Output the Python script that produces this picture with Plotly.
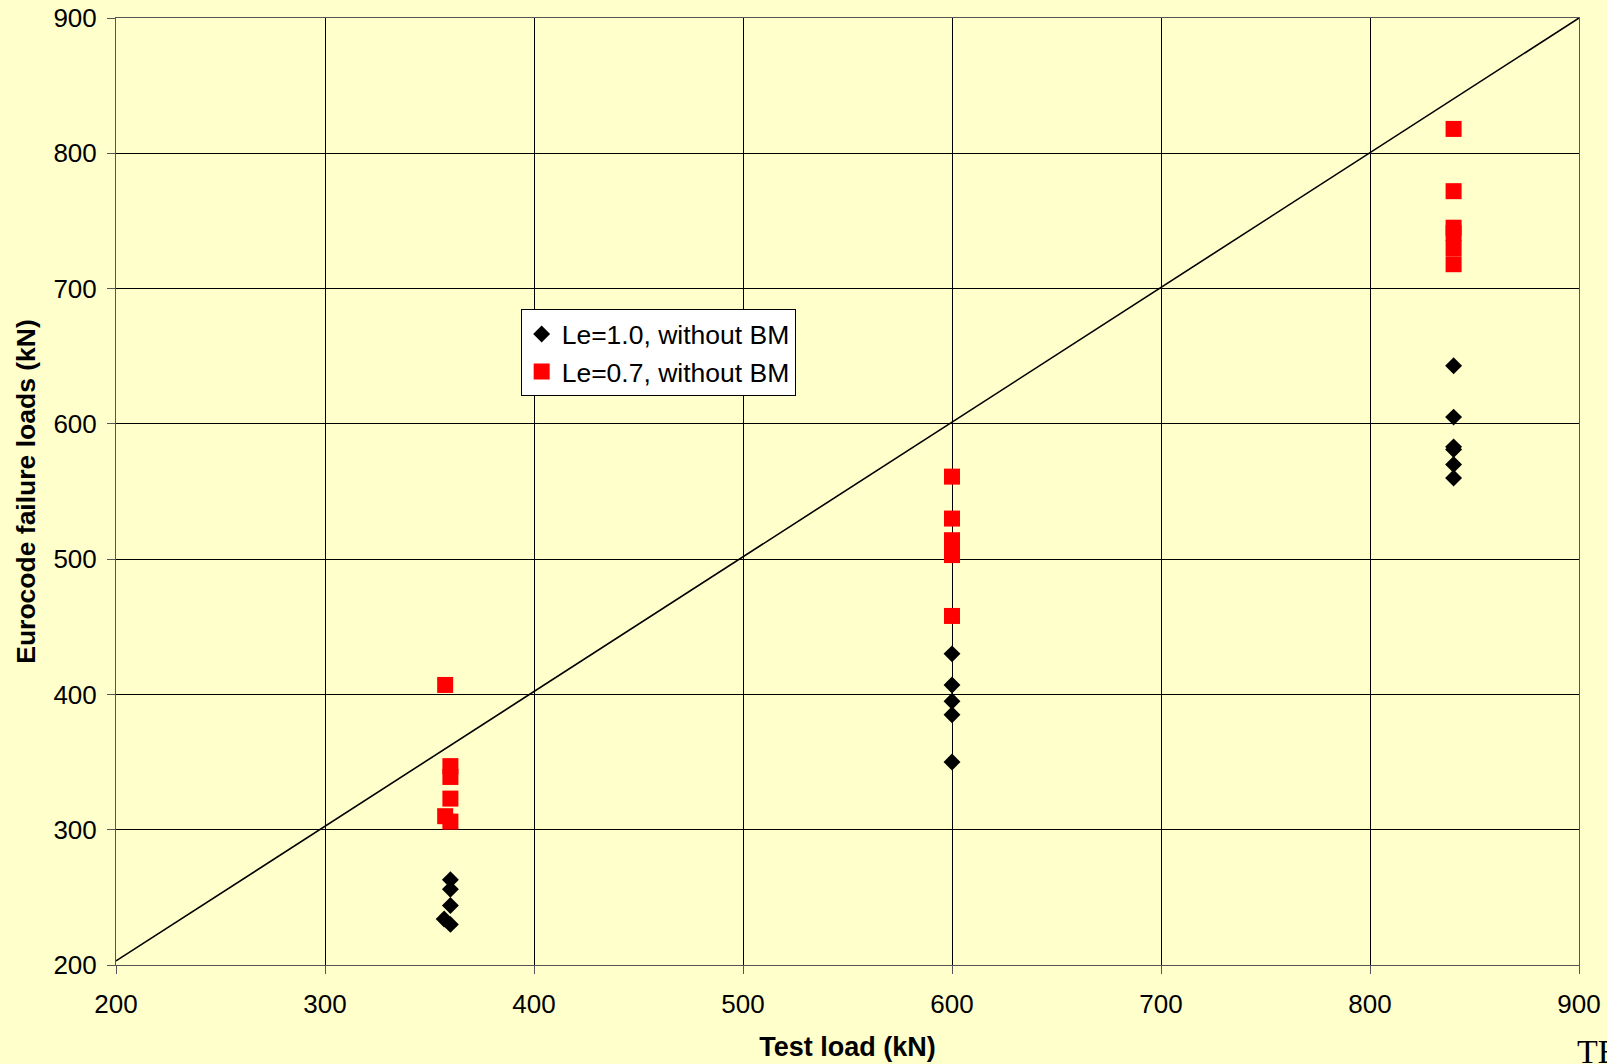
import plotly.graph_objects as go

# Data
le10_x = [360, 360, 360, 357, 360,
          600, 600, 600, 600, 600,
          840, 840, 840, 840, 840, 840]
le10_y = [263, 256, 244, 234, 230,
          430, 407, 395, 385, 350,
          643, 605, 583, 581, 570, 560]

le07_x = [357.5, 360, 360, 360, 357.5, 360,
          600, 600, 600, 600, 600, 600,
          840, 840, 840, 840, 840, 840]
le07_y = [407, 347, 339, 323, 310, 306,
          561, 530, 514, 508, 503, 458,
          818, 772, 745, 741, 730, 718]

line_x = [200, 900]
line_y = [203, 900]

x_ticks = [200, 300, 400, 500, 600, 700, 800, 900]
y_ticks = [200, 300, 400, 500, 600, 700, 800, 900]

BG = "#FFFFCC"
FONT = "Arial, Liberation Sans, sans-serif"

fig = go.Figure()
fig.add_trace(go.Scatter(x=line_x, y=line_y, mode="lines",
                         line=dict(color="black", width=1.6),
                         showlegend=False, hoverinfo="skip"))
fig.add_trace(go.Scatter(x=le10_x, y=le10_y, mode="markers",
                         name="Le=1.0, without BM",
                         marker=dict(symbol="diamond", size=13, color="black")))
fig.add_trace(go.Scatter(x=le07_x, y=le07_y, mode="markers",
                         name="Le=0.7, without BM",
                         marker=dict(symbol="square", size=16, color="#FF0000")))

axis_common = dict(
    showgrid=True, gridcolor="#000000", gridwidth=1,
    showline=True, linecolor="#555555", linewidth=1, mirror=True,
    ticks="outside", ticklen=8, tickcolor="#555555",
    zeroline=False, automargin=False,
    tickfont=dict(family=FONT, size=26, color="black"),
)

fig.update_xaxes(range=[200, 900], tickvals=x_ticks, ticktext=[str(v) for v in x_ticks],
                 title=dict(text="<b>Test load (kN)</b>", standoff=18,
                            font=dict(family=FONT, size=27, color="black")),
                 ticklabelstandoff=8, **axis_common)
fig.update_yaxes(range=[200, 900], tickvals=y_ticks, ticktext=[str(v) for v in y_ticks],
                 title=dict(text="<b>Eurocode failure loads (kN)</b>", standoff=10,
                            font=dict(family=FONT, size=26.5, color="black")),
                 ticklabelstandoff=5, **axis_common)

fig.update_layout(
    width=1607, height=1064,
    margin=dict(l=116, r=28, t=18, b=99, autoexpand=False),
    paper_bgcolor=BG, plot_bgcolor=BG,
    legend=dict(x=0.2766, y=0.6924, xanchor="left", yanchor="top",
                bgcolor="white", bordercolor="black", borderwidth=1,
                font=dict(family=FONT, size=26.5, color="black"),
                itemwidth=30, tracegroupgap=0),
    showlegend=True,
    annotations=[dict(text="TE", xref="paper", yref="paper",
                      x=(1575 - 116) / 1463, y=-(1064 - 965 + 8) / 947,
                      xanchor="left", yanchor="bottom", showarrow=False,
                      font=dict(family="Liberation Serif, Times New Roman, serif", size=34, color="black"))],
)

fig.write_html("out.html", config={"displayModeBar": False},
               post_script="document.body.style.margin='0';document.body.style.overflow='hidden';")
